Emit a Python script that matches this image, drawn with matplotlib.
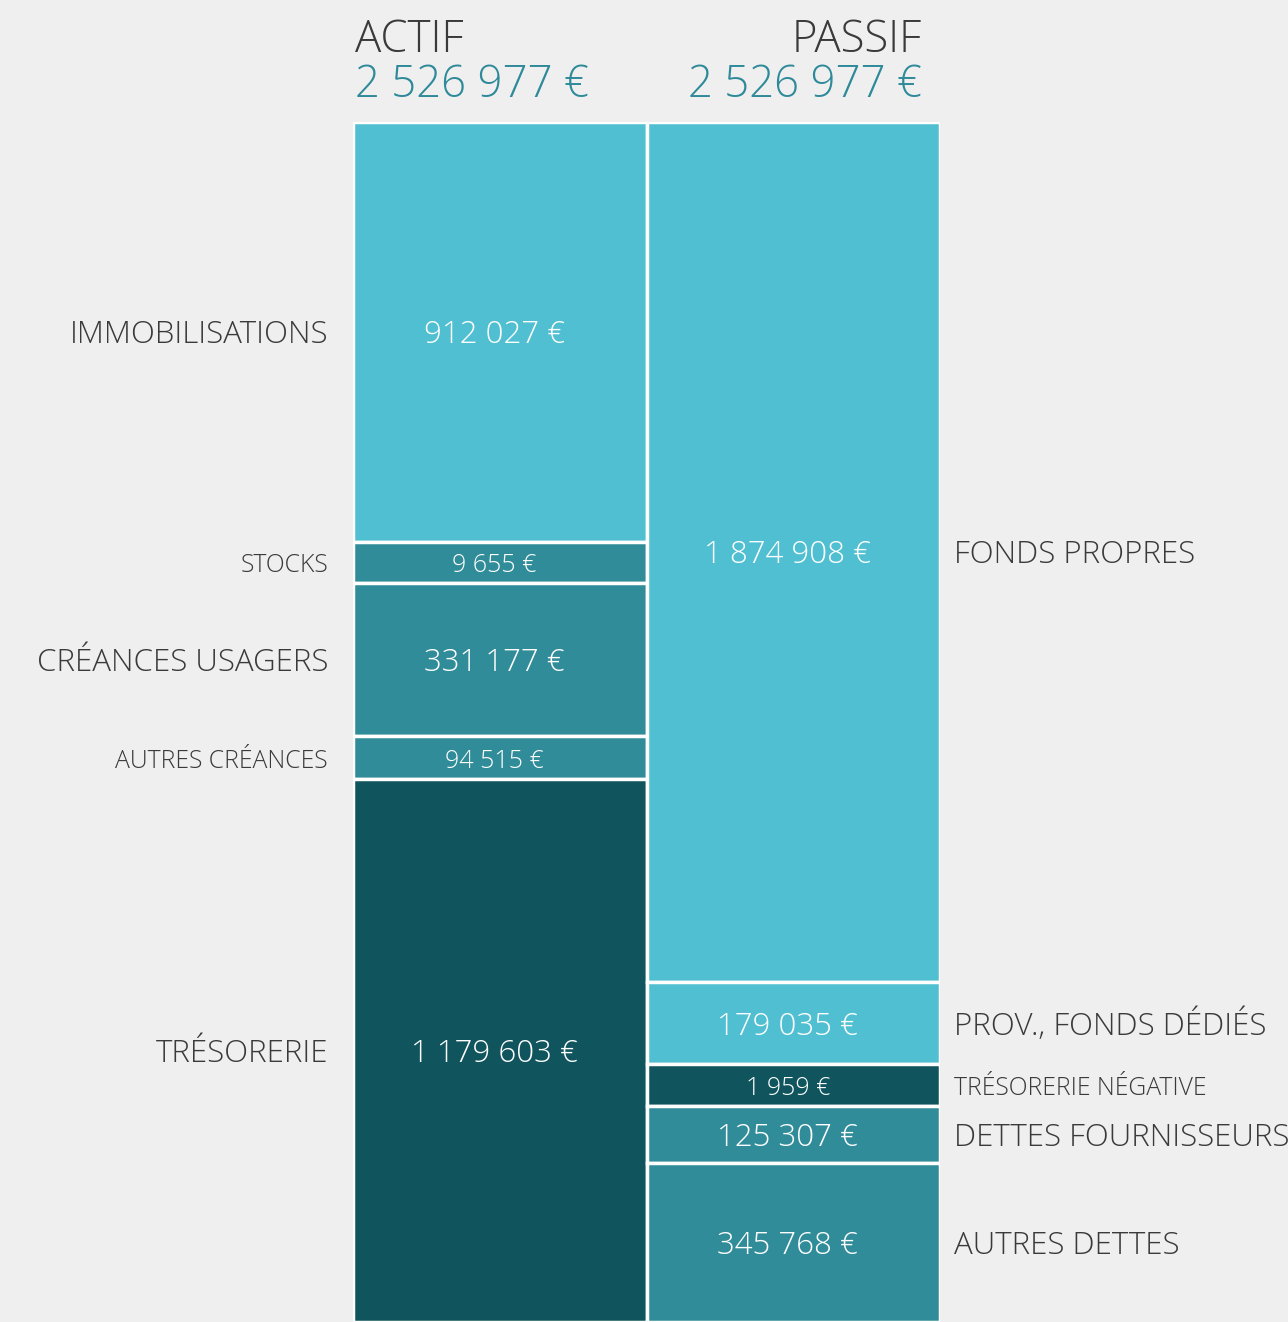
import matplotlib

matplotlib.use("Agg")
import matplotlib.pyplot as plt
import numpy as np

plt.rcParams["font.family"] = ["Open Sans", "DejaVu Sans"]

actif_labels = ["IMMOBILISATIONS", "STOCKS", "CRÉANCES USAGERS", "AUTRES CRÉANCES", "TRÉSORERIE"]
actif_values = [912027, 9655, 331177, 94515, 1179603]
actif_tones = ["light", "mid", "mid", "mid", "dark"]

passif_labels = ["FONDS PROPRES", "PROV., FONDS DÉDIÉS", "TRÉSORERIE NÉGATIVE",
                 "DETTES FOURNISSEURS", "AUTRES DETTES"]
passif_values = [1874908, 179035, 1959, 125307, 345768]
passif_tones = ["light", "light", "dark", "mid", "mid"]

total_actif = 2526977
total_passif = 2526977

COLORS = {"light": "#4fbfd1", "mid": "#318c99", "dark": "#10555d"}
TEXT = "#3a3a3a"
TEAL = "#2e8a99"
BG = "#efefef"
MIN_FRAC = 0.036   # tiny items get a minimum visible height
SMALL_FRAC = 0.045  # segments thinner than this get the small font


def fmt(v):
    return f"{v:,}".replace(",", " ") + " €"


def shares(values, total):
    floor = MIN_FRAC * total
    h = np.maximum(np.array(values, float), floor)
    return h / h.sum()


fig = plt.figure(figsize=(12.88, 13.22), dpi=100, facecolor=BG)
ax = fig.add_axes([353 / 1288, 0, (940 - 353) / 1288, 1 - 122 / 1322])
ax.set_facecolor("none")
ax.set_xlim(-0.5, 1.5)
ax.set_ylim(1, 0)
ax.axis("off")

DY = -2.5  # nudge text down a touch, Open Sans sits high with va=center

for col, (labels, values, tones, total) in enumerate([
        (actif_labels, actif_values, actif_tones, total_actif),
        (passif_labels, passif_values, passif_tones, total_passif)]):
    h = shares(values, total)
    bottoms = np.concatenate([[0], np.cumsum(h)[:-1]])
    ax.bar(col, h, bottom=bottoms, width=1.0,
           color=[COLORS[t] for t in tones], edgecolor="white", linewidth=2.5)
    for lab, v, b, hh in zip(labels, values, bottoms, h):
        small = hh < SMALL_FRAC
        fs_val = 18 if small else 22.5
        fs_lab = 17.8 if small else 22.5
        yc = b + hh / 2
        ax.annotate(fmt(v), (col, yc), xytext=(-4, DY), textcoords="offset points",
                    color="white", fontsize=fs_val, fontweight="light",
                    ha="center", va="center")
        if col == 0:
            ax.annotate(lab, (-0.5, yc), xytext=(-18, DY), textcoords="offset points",
                        ha="right", va="center", fontsize=fs_lab, color=TEXT,
                        fontweight="light")
        else:
            ax.annotate(lab, (1.5, yc), xytext=(10, DY), textcoords="offset points",
                        ha="left", va="center", fontsize=fs_lab, color=TEXT,
                        fontweight="light")

H = 1322
fig.text(355 / 1288, 1 - 41 / H, "ACTIF", fontsize=31.5, color=TEXT,
         ha="left", va="center", fontweight="light")
fig.text(355 / 1288, 1 - 86 / H, fmt(total_actif), fontsize=31.5, color=TEAL,
         ha="left", va="center", fontweight="light")
fig.text(922 / 1288, 1 - 41 / H, "PASSIF", fontsize=31.5, color=TEXT,
         ha="right", va="center", fontweight="light")
fig.text(922 / 1288, 1 - 86 / H, fmt(total_passif), fontsize=31.5, color=TEAL,
         ha="right", va="center", fontweight="light")

fig.savefig("out.png", dpi=100, facecolor=BG)
